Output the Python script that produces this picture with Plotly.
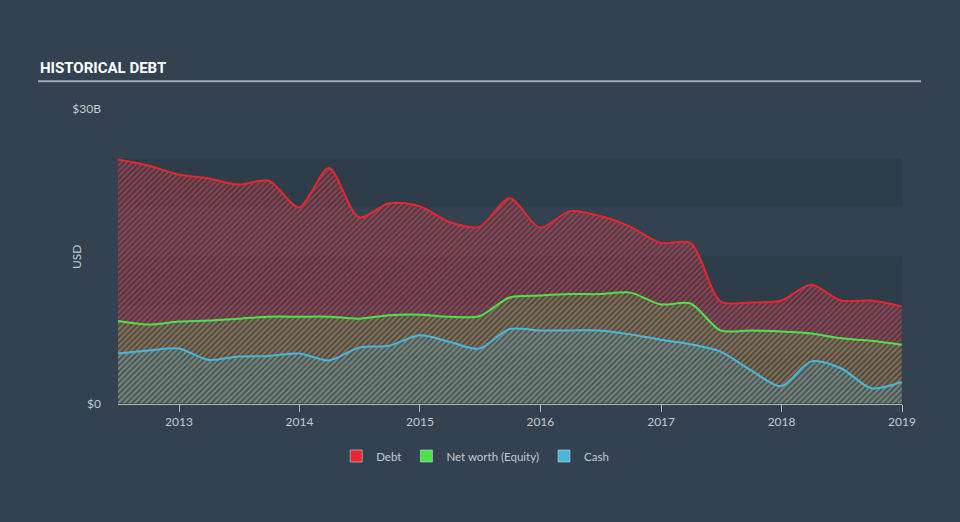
import plotly.graph_objects as go

dates = ["2012-06-30", "2012-09-30", "2012-12-31", "2013-03-31", "2013-06-30", "2013-09-30",
         "2013-12-31", "2014-03-31", "2014-06-30", "2014-09-30", "2014-12-31", "2015-03-31",
         "2015-06-30", "2015-09-30", "2015-12-31", "2016-03-31", "2016-06-30", "2016-09-30",
         "2016-12-31", "2017-03-31", "2017-06-30", "2017-09-30", "2017-12-31", "2018-03-31",
         "2018-06-30", "2018-09-30", "2018-12-31"]

debt = [24.85, 24.24, 23.33, 22.93, 22.3, 22.7, 19.98, 24.0, 18.97, 20.4, 20.1, 18.5,
        18.0, 20.9, 17.9, 19.6, 19.1, 18.0, 16.35, 16.35, 10.4, 10.3, 10.5, 12.1,
        10.5, 10.5, 9.9]

equity = [8.4, 8.05, 8.35, 8.45, 8.65, 8.85, 8.85, 8.85, 8.65, 9.0, 9.06, 8.85,
          8.9, 10.8, 11.0, 11.15, 11.15, 11.3, 10.1, 10.2, 7.45, 7.45, 7.35, 7.15,
          6.65, 6.4, 6.0]

cash = [5.1, 5.4, 5.6, 4.45, 4.8, 4.85, 5.1, 4.4, 5.7, 5.9, 6.95, 6.3,
        5.6, 7.6, 7.45, 7.45, 7.45, 7.05, 6.5, 6.05, 5.3, 3.4, 1.77, 4.3,
        3.6, 1.57, 2.2]

series = [
    ("Debt", debt, "#e8262d", "rgba(232,38,45,0.16)", "rgba(225,75,90,1)", 0.5),
    ("Net worth (Equity)", equity, "#4ce24c", "rgba(76,226,76,0.08)", "rgba(110,190,80,1)", 0.35),
    ("Cash", cash, "#45b8dc", "rgba(69,184,220,0.10)", "rgba(80,170,190,1)", 0.35),
]

y_ticks = [0, 30]
y_ticktext = ["$0", "$30B"]

BG = "#334150"
TXT = "#c3c9cf"
FONT = "Lato"

fig = go.Figure()

for name, vals, lc, fc, pc, op in series:
    fig.add_trace(go.Scatter(
        x=dates, y=vals, mode="lines", name=name, showlegend=False,
        line=dict(color=lc, width=2, shape="spline", smoothing=0.8),
        fill="tozeroy", fillcolor=fc,
        fillpattern=dict(shape="/", fgcolor=pc, fgopacity=op, size=4, solidity=0.45),
        hoverinfo="skip",
    ))

for name, vals, lc, fc, pc, op in series:
    fig.add_trace(go.Bar(x=[None], y=[None], name=name, marker=dict(color=lc), showlegend=True))

# horizontal bands
for lo, hi in [(20, 25), (10, 15), (0, 5)]:
    fig.add_shape(type="rect", xref="paper", yref="y", x0=0, x1=1, y0=lo, y1=hi,
                  fillcolor="rgba(0,0,0,0.07)", line=dict(width=0), layer="below")

plot_h = 405.5 - 109
fig.add_shape(type="line", xref="paper", yref="paper",
              x0=(38 - 118) / 784, x1=(921 - 118) / 784,
              y0=1 + (109 - 81) / plot_h, y1=1 + (109 - 81) / plot_h,
              line=dict(color="#a3abb3", width=2))

fig.add_annotation(text="<b>HISTORICAL DEBT</b>", xref="paper", yref="paper",
                   x=(38 - 118) / 784, y=1 + (109 - 68) / plot_h,
                   xanchor="left", yanchor="middle", showarrow=False,
                   font=dict(family="Roboto", size=15, color="#ffffff"))

fig.add_annotation(text="USD", xref="paper", yref="paper",
                   x=(76 - 118) / 784, y=1 - (258 - 109) / plot_h,
                   xanchor="center", yanchor="middle", textangle=-90, showarrow=False,
                   font=dict(family=FONT, size=12, color=TXT))

fig.update_layout(
    width=960, height=522,
    paper_bgcolor=BG, plot_bgcolor=BG,
    margin=dict(l=118, r=58, t=109, b=116.5),
    font=dict(family=FONT, size=12, color=TXT),
    showlegend=True,
    legend=dict(orientation="h", xref="container", yref="container",
                x=0.495, y=1 - 456 / 522, xanchor="center", yanchor="middle",
                font=dict(family=FONT, size=11.5, color=TXT), bgcolor="rgba(0,0,0,0)",
                itemwidth=30, traceorder="normal"),
    xaxis=dict(type="date", range=["2012-06-30", "2019-01-01"],
               tick0="2013-01-01", dtick="M12", tickformat="%Y",
               showgrid=False, zeroline=False, showline=True, linecolor="#aeb6be", linewidth=1,
               ticks="outside", ticklen=7, tickcolor="#aeb6be",
               tickfont=dict(family=FONT, size=12, color=TXT)),
    yaxis=dict(range=[0, 30], tickvals=y_ticks, ticktext=y_ticktext,
               showgrid=False, zeroline=False, showline=False, ticks="",
               ticklabelstandoff=16,
               tickfont=dict(family=FONT, size=12, color=TXT)),
)

fig.write_html("out.html")
